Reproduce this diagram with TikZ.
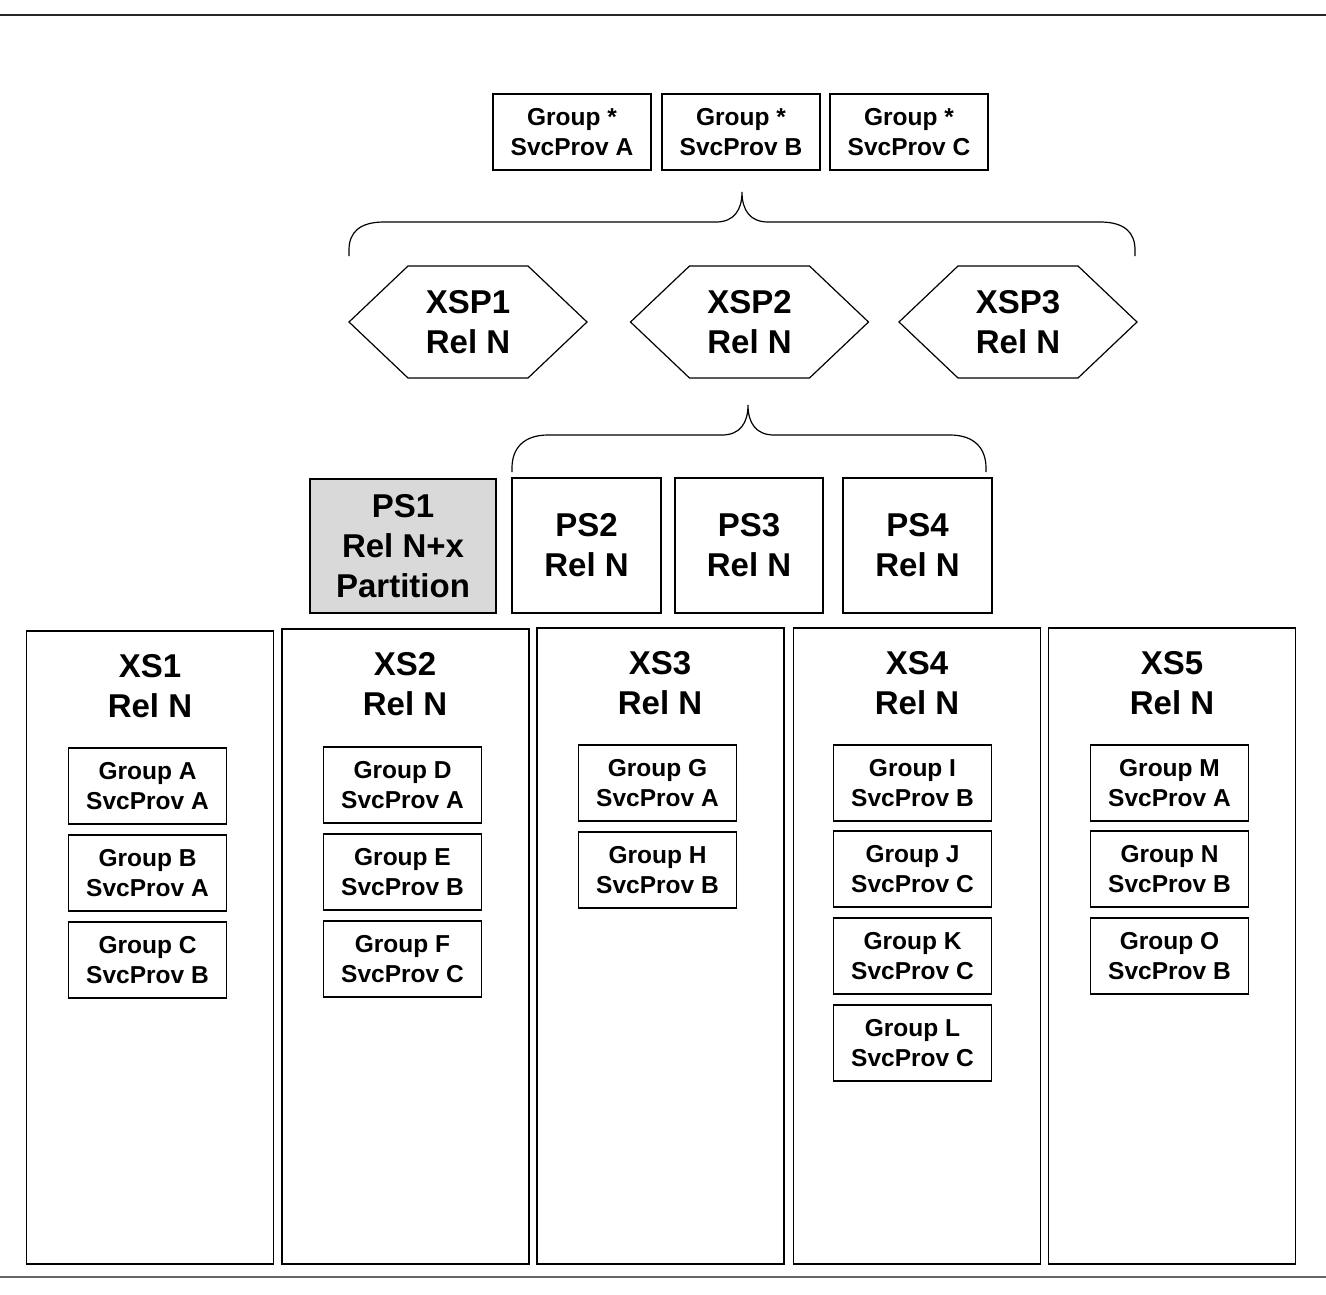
\documentclass[tikz,border=0pt]{standalone}
\usepackage{fontspec}
\setmainfont{Liberation Sans}
\begin{document}
\begin{tikzpicture}[x=1pt,y=-1pt,
  small/.style={draw=black,line width=1.2pt,fill=white,minimum width=158pt,minimum height=76pt,inner sep=0pt,align=center,font=\bfseries\fontsize{24.5}{30}\selectfont},
  big/.style={draw=black,line width=1.2pt,fill=white,inner sep=0pt,align=center,font=\bfseries\fontsize{33}{40}\selectfont},
  col/.style={draw=black,line width=1.2pt,fill=white,minimum width=247pt,inner sep=0pt},
  bigtext/.style={inner sep=0pt,align=center,font=\bfseries\fontsize{33}{40}\selectfont},
  brace/.style={draw=black,line width=1.2pt}]
\useasboundingbox (0,0) rectangle (1326,1294);
\fill[white] (0,0) rectangle (1326,1294);
% rule lines
\coordinate (tl) at (0,15); \coordinate (tr) at (1326,15);
\draw[line width=1.5pt,black!85] (tl) -- (tr);
\coordinate (bl) at (0,1277); \coordinate (br) at (1326,1277);
\draw[line width=1.5pt,black!60] (bl) -- (br);
% top boxes
\node[small] (ga) at (572,132) {Group *\\SvcProv A};
\node[small] (gb) at (741,132) {Group *\\SvcProv B};
\node[small] (gc) at (909,132) {Group *\\SvcProv C};
% brace 1
\draw[brace] (349,256) -- (349,250) .. controls (349,232) and (360,222) .. (384,222)
  -- (716,222) .. controls (734,222) and (742,210) .. (742,192)
  .. controls (742,210) and (750,222) .. (768,222)
  -- (1100,222) .. controls (1124,222) and (1135,232) .. (1135,250) -- (1135,256);
% hexagons
\foreach \n/\cx in {1/468,2/749.5,3/1018}{
  \draw[line width=1.2pt,fill=white] (\cx-119,322) -- (\cx-60,266) -- (\cx+60,266) -- (\cx+119,322) -- (\cx+60,378) -- (\cx-60,378) -- cycle;
}
\node[bigtext] (xsp1) at (468,322) {XSP1\\Rel N};
\node[bigtext] (xsp2) at (749.5,322) {XSP2\\Rel N};
\node[bigtext] (xsp3) at (1018,322) {XSP3\\Rel N};
% brace 2
\draw[brace] (512,472) -- (512,468) .. controls (512,448) and (524,435) .. (548,435)
  -- (722,435) .. controls (740,435) and (748,423) .. (748,405)
  .. controls (748,423) and (756,435) .. (774,435)
  -- (950,435) .. controls (974,435) and (986,448) .. (986,468) -- (986,472);
% PS boxes
\node[big,fill=black!15,minimum width=186pt,minimum height=134pt] (ps1) at (403,546) {PS1\\Rel N+x\\Partition};
\node[big,minimum width=149pt,minimum height=135pt] (ps2) at (586.5,545.5) {PS2\\Rel N};
\node[big,minimum width=148pt,minimum height=135pt] (ps3) at (749,545.5) {PS3\\Rel N};
\node[big,minimum width=149pt,minimum height=135pt] (ps4) at (917.5,545.5) {PS4\\Rel N};
% XS columns
\node[col,minimum height=633pt] (xs1) at (150,947.5) {};
\node[col,minimum height=635pt] (xs2) at (405.5,946.5) {};
\node[col,minimum height=636pt] (xs3) at (660.5,946) {};
\node[col,minimum height=636pt] (xs4) at (917,946) {};
\node[col,minimum height=636pt] (xs5) at (1172,946) {};
\node[bigtext] (t1) at (150,686) {XS1\\Rel N};
\node[bigtext] (t2) at (405,684) {XS2\\Rel N};
\node[bigtext] (t3) at (660,683) {XS3\\Rel N};
\node[bigtext] (t4) at (917,683) {XS4\\Rel N};
\node[bigtext] (t5) at (1172,683) {XS5\\Rel N};
% inner groups
\node[small] (a) at (147.5,786) {Group A\\SvcProv A};
\node[small] (b) at (147.5,873) {Group B\\SvcProv A};
\node[small] (c) at (147.5,960) {Group C\\SvcProv B};
\node[small] (d) at (402.5,785) {Group D\\SvcProv A};
\node[small] (e) at (402.5,872) {Group E\\SvcProv B};
\node[small] (f) at (402.5,959) {Group F\\SvcProv C};
\node[small] (g) at (657.5,783) {Group G\\SvcProv A};
\node[small] (h) at (657.5,870) {Group H\\SvcProv B};
\node[small] (i) at (912.5,783) {Group I\\SvcProv B};
\node[small] (j) at (912.5,869) {Group J\\SvcProv C};
\node[small] (k) at (912.5,956) {Group K\\SvcProv C};
\node[small] (l) at (912.5,1043) {Group L\\SvcProv C};
\node[small] (m) at (1169.5,783) {Group M\\SvcProv A};
\node[small] (n) at (1169.5,869) {Group N\\SvcProv B};
\node[small] (o) at (1169.5,956) {Group O\\SvcProv B};
\end{tikzpicture}
\end{document}
